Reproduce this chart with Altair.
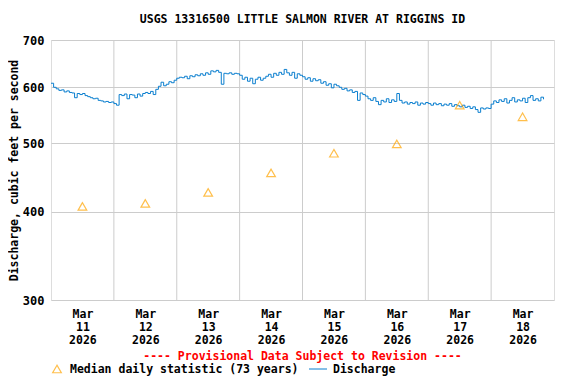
import altair as alt
import pandas as pd

mar11 = [608, 600, 597, 594, 595, 591, 593, 590, 589, 580, 588, 586,
         588, 584, 582, 580, 578, 579, 575, 574, 572, 573, 571, 572]
mar12 = [569, 566, 586, 584, 587, 578, 586, 585, 580, 587, 583, 588,
         590, 588, 592, 586, 596, 602, 610, 603, 606, 611, 609, 614]
mar13 = [618, 620, 619, 622, 617, 623, 621, 625, 623, 627, 624, 629,
         626, 633, 631, 634, 630, 606, 628, 627, 629, 626, 628, 627]
mar14 = [624, 616, 620, 612, 618, 607, 616, 620, 614, 618, 622, 626,
         620, 628, 624, 630, 626, 636, 629, 624, 630, 618, 627, 624]
mar15 = [621, 616, 619, 612, 617, 613, 615, 608, 611, 604, 607, 599,
         606, 603, 600, 596, 598, 593, 595, 590, 592, 575, 589, 586]
mar16 = [583, 578, 575, 580, 573, 567, 575, 572, 578, 571, 576, 573,
         588, 575, 570, 572, 568, 571, 569, 572, 566, 570, 568, 571]
mar17 = [569, 566, 570, 567, 569, 565, 568, 566, 569, 564, 567, 565,
         563, 566, 562, 564, 560, 563, 558, 553, 561, 559, 561, 560]
mar18 = [568, 574, 571, 576, 573, 578, 570, 575, 580, 572, 576, 574,
         579, 571, 580, 584, 575, 578, 574, 581, 577]

discharge = mar11 + mar12 + mar13 + mar14 + mar15 + mar16 + mar17 + mar18
times = pd.date_range("2026-03-11 00:00", periods=len(discharge), freq="h")
flow_df = pd.DataFrame({"time": times, "cfs": discharge})

# Median daily statistic (73 years), at noon of each day
median_days = ["2026-03-11 12:00", "2026-03-12 12:00", "2026-03-13 12:00", "2026-03-14 12:00",
               "2026-03-15 12:00", "2026-03-16 12:00", "2026-03-17 12:00", "2026-03-18 12:00"]
median_vals = [407, 411, 426, 454, 484, 499, 566, 545]
median_df = pd.DataFrame({"time": pd.to_datetime(median_days), "cfs": median_vals})

# Day boundaries (vertical grid lines)
day_bounds = ["2026-03-12", "2026-03-13", "2026-03-14", "2026-03-15",
              "2026-03-16", "2026-03-17", "2026-03-18"]
grid_df = pd.DataFrame({"time": pd.to_datetime(day_bounds)})

y_ticks = [300, 400, 500, 600, 700]
label_days = [11, 12, 13, 14, 15, 16, 17, 18]

FONT = "DejaVu Sans Mono"
BLUE = "#0B7FCF"
ORANGE = "#FFA500"

x_dom = [alt.DateTime(year=2026, month=3, date=11, hours=0),
         alt.DateTime(year=2026, month=3, date=19, hours=0)]
x_vals = [alt.DateTime(year=2026, month=3, date=d, hours=12) for d in label_days]
x_scale = alt.Scale(domain=x_dom, nice=False)
y_scale = alt.Scale(type="log", domain=[300, 700], nice=False)

x_enc = alt.X(
    "time:T",
    scale=x_scale,
    axis=alt.Axis(
        values=x_vals,
        labelExpr="[timeFormat(datum.value, '%b'), timeFormat(datum.value, '%d'), timeFormat(datum.value, '%Y')]",
        grid=False, ticks=False, domain=False, labelAngle=0,
        labelFont=FONT, labelFontWeight="bold", labelFontSize=11.5,
        labelColor="black", labelLineHeight=13, labelPadding=8,
        labelBaseline="top", title=None,
    ),
)
y_enc = alt.Y(
    "cfs:Q",
    scale=y_scale,
    axis=alt.Axis(
        values=y_ticks, format="d", grid=True, gridColor="#cccccc",
        ticks=False, domain=False, labelPadding=7,
        labelFont=FONT, labelFontWeight="bold", labelFontSize=12, labelColor="black",
        title="Discharge, cubic feet per second",
        titleFont=FONT, titleFontWeight="bold", titleFontSize=11.5, titleColor="black",
        titlePadding=3,
    ),
)

grid = alt.Chart(grid_df).mark_rule(color="#cccccc", strokeWidth=1).encode(
    x=alt.X("time:T", scale=x_scale)
)

line = alt.Chart(flow_df).mark_line(color=BLUE, strokeWidth=1, interpolate="step-after").encode(
    x=x_enc, y=y_enc
)

medians = alt.Chart(median_df).mark_point(
    shape="triangle-up", filled=False, color=ORANGE, size=75, strokeWidth=1.2
).encode(x=alt.X("time:T", scale=x_scale), y=alt.Y("cfs:Q", scale=y_scale))

one = pd.DataFrame({"k": [0]})

title = alt.Chart(one).mark_text(
    text="USGS 13316500 LITTLE SALMON RIVER AT RIGGINS ID", color="black",
    font=FONT, fontWeight="bold", fontSize=11.5, align="center", baseline="middle"
).encode(x=alt.value(251.5), y=alt.value(-20))

prov = alt.Chart(one).mark_text(
    text="---- Provisional Data Subject to Revision ----", color="red",
    font=FONT, fontWeight="bold", fontSize=11.5, align="center", baseline="middle"
).encode(x=alt.value(251.5), y=alt.value(317))

leg_tri = alt.Chart(one).mark_point(
    shape="triangle-up", filled=False, color=ORANGE, size=75, strokeWidth=1.2
).encode(x=alt.value(6), y=alt.value(329))

leg_med = alt.Chart(one).mark_text(
    text="Median daily statistic (73 years)", color="black",
    font=FONT, fontWeight="bold", fontSize=11.5, align="left", baseline="middle"
).encode(x=alt.value(19), y=alt.value(330))

leg_line = alt.Chart(one).mark_rule(color=BLUE, strokeWidth=1).encode(
    x=alt.value(258), x2=alt.value(276), y=alt.value(329)
)

leg_dis = alt.Chart(one).mark_text(
    text="Discharge", color="black",
    font=FONT, fontWeight="bold", fontSize=11.5, align="left", baseline="middle"
).encode(x=alt.value(282), y=alt.value(330))

chart = alt.layer(
    grid, line, medians, title, prov, leg_tri, leg_med, leg_line, leg_dis
).properties(
    width=503, height=260,
    autosize="none",
    padding={"left": 43, "top": 32, "right": 14, "bottom": 76},
).configure_view(stroke="black", strokeWidth=1).configure(background="white")

chart.save("out.html", embed_options={"renderer": "svg", "actions": False})
